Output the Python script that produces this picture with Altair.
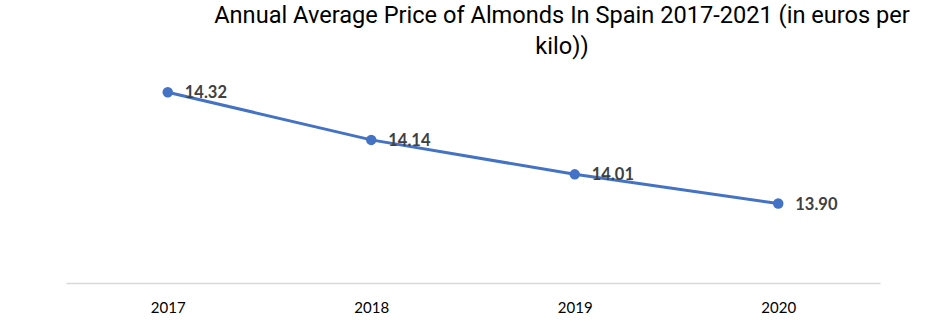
import altair as alt
import pandas as pd

years = ["2017", "2018", "2019", "2020"]
prices = [14.32, 14.14, 14.01, 13.90]
labels = ["14.32", "14.14", "14.01", "13.90"]

df = pd.DataFrame({"year": years, "price": prices, "label": labels})

x = alt.X("year:N", title=None, sort=years,
          scale=alt.Scale(type="point", padding=0.5),
          axis=alt.Axis(labelAngle=0, ticks=False, domainColor="#d9d9d9", domainWidth=1.5,
                        labelFont="Lato", labelFontSize=15, labelColor="#000000",
                        labelPadding=17, grid=False))
y = alt.Y("price:Q", title=None, scale=alt.Scale(domain=[13.6, 14.4], zero=False, nice=False),
          axis=None)

base = alt.Chart(df).encode(x=x, y=y)

line = base.mark_line(color="#4472c4", strokeWidth=3)
pts = base.mark_point(color="#4472c4", filled=True, opacity=1, size=110)
txt = base.mark_text(align="left", baseline="middle", dx=17, dy=1, font="Lato",
                     fontWeight="bold", fontSize=16.5, color="#404040").encode(text="label:N")

chart = (line + pts + txt).properties(
    width=814, height=212,
    autosize=alt.AutoSizeParams(type="none"),
    padding={"left": 66, "top": 71, "right": 60, "bottom": 48},
    title=alt.TitleParams(
        text=["Annual Average Price of Almonds In Spain 2017-2021 (in euros per", "kilo))"],
        anchor="middle", dx=89, font="Roboto", fontSize=23.6, fontWeight="normal",
        color="#000000", lineHeight=31, offset=12),
).configure_view(stroke=None)

chart.save("out.html", embed_options={"renderer": "svg", "actions": False})
